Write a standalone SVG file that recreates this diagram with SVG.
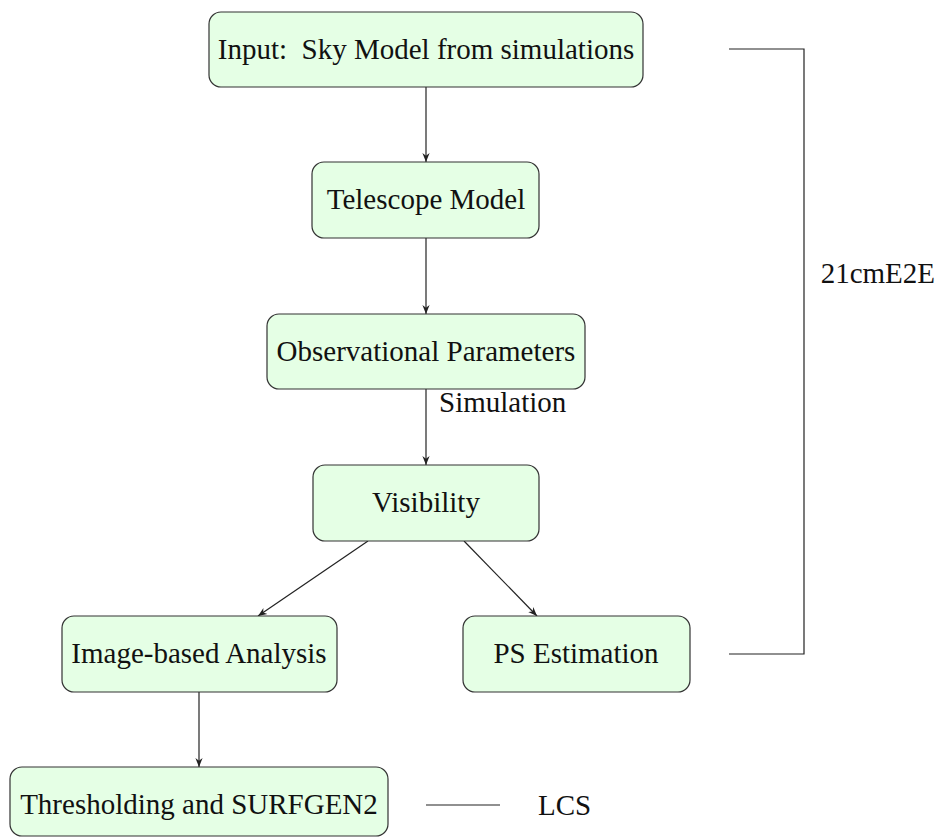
<svg xmlns="http://www.w3.org/2000/svg" width="938" height="838" viewBox="0 0 938 838">
<defs>
<style>
.box{fill:#e5ffe5;stroke:#333;stroke-width:1.2}
.t{font-family:"Liberation Serif","Times New Roman",serif;font-size:29px;fill:#111}
.c{text-anchor:middle}
.ln{stroke:#222;stroke-width:1.2;fill:none}
</style>
<marker id="ah" viewBox="0 0 10 10" refX="10" refY="5" markerWidth="9" markerHeight="9" markerUnits="userSpaceOnUse" orient="auto">
<path d="M0,1 L10,5 L0,9 L3,5 z" fill="#222"/>
</marker>
</defs>
<rect width="938" height="838" fill="#fff"/>
<g id="connectors">
<line class="ln" x1="426" y1="87" x2="426" y2="162" marker-end="url(#ah)"/>
<line class="ln" x1="426" y1="238" x2="426" y2="314" marker-end="url(#ah)"/>
<line class="ln" x1="426" y1="389" x2="426" y2="465" marker-end="url(#ah)"/>
<line class="ln" x1="368" y1="541" x2="258" y2="616" marker-end="url(#ah)"/>
<line class="ln" x1="464" y1="541" x2="537" y2="616" marker-end="url(#ah)"/>
<line class="ln" x1="199" y1="692" x2="199" y2="767" marker-end="url(#ah)"/>
<polyline class="ln" points="729,49 804,49 804,654 729,654"/>
<line class="ln" x1="426" y1="805" x2="500" y2="805"/>
<text class="t" x="439" y="412">Simulation</text>
</g>
<g id="n1"><rect class="box" x="209" y="12" width="434" height="75" rx="12"/><text class="t c" x="426" y="59">Input:&#160; Sky Model from simulations</text></g>
<g id="n2"><rect class="box" x="312" y="162" width="227" height="76" rx="12"/><text class="t c" x="426" y="209">Telescope Model</text></g>
<g id="n3"><rect class="box" x="267" y="314" width="318" height="75" rx="12"/><text class="t c" x="426" y="361">Observational Parameters</text></g>
<g id="n4"><rect class="box" x="313" y="465" width="226" height="76" rx="12"/><text class="t c" x="426" y="512">Visibility</text></g>
<g id="n5"><rect class="box" x="62" y="616" width="275" height="76" rx="12"/><text class="t c" x="199" y="663">Image-based Analysis</text></g>
<g id="n6"><rect class="box" x="463" y="616" width="227" height="76" rx="12"/><text class="t c" x="576" y="663">PS Estimation</text></g>
<g id="n7"><rect class="box" x="10" y="767" width="378" height="69" rx="12"/><text class="t c" x="199" y="814">Thresholding and SURFGEN2</text></g>
<g id="labels">
<text class="t" x="935" y="283" text-anchor="end">21cmE2E</text>
<text class="t" x="538" y="815">LCS</text>
</g>
</svg>
